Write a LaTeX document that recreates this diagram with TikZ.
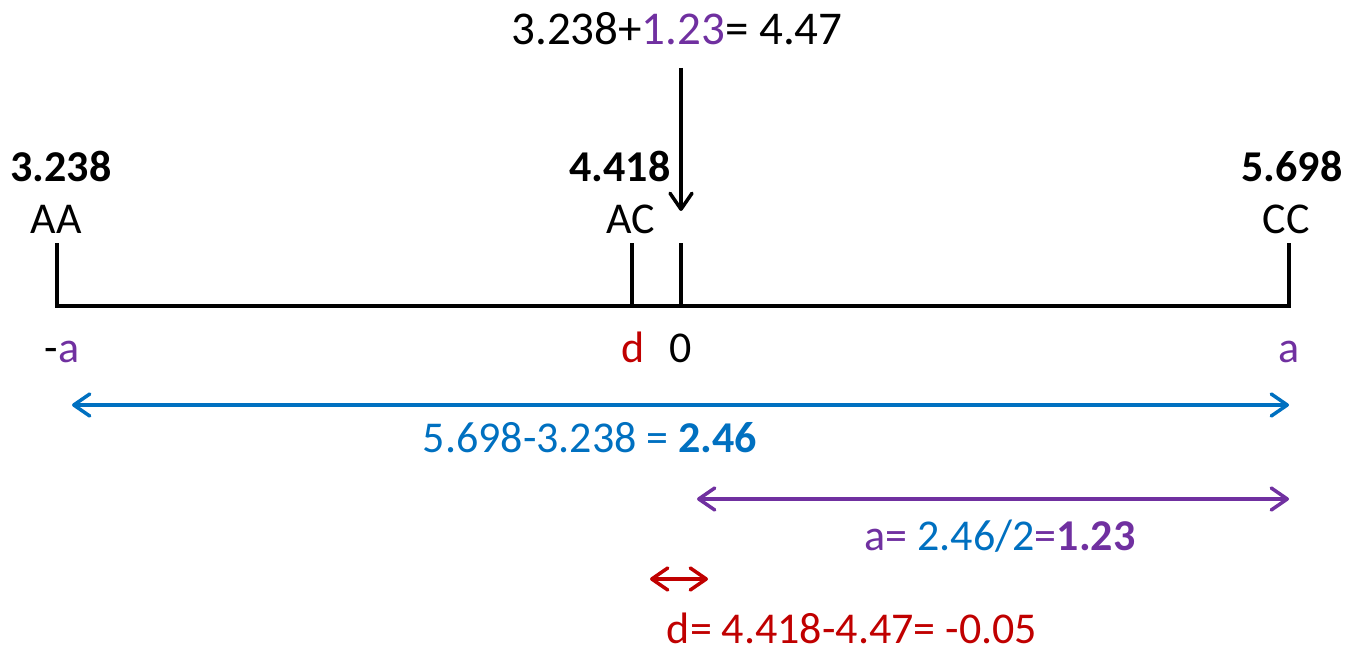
\documentclass[tikz,border=0pt]{standalone}
\usepackage{fontspec}
\setmainfont{Carlito}
\usetikzlibrary{arrows.meta}
\definecolor{myblue}{HTML}{0070C0}
\definecolor{mypurple}{HTML}{7030A0}
\definecolor{myred}{HTML}{C00000}
\tikzset{
  lbl/.style={inner sep=0pt, anchor=base, font=\fontsize{44}{52}\selectfont},
  toplbl/.style={inner sep=0pt, anchor=base, font=\fontsize{47}{56}\selectfont},
  axis/.style={line width=4pt, line cap=rect},
  barb/.tip={Straight Barb[length=16pt,width=22pt,line width=3.5pt,round]},
  dimarrow/.style={line width=3.5pt, {barb}-{barb}},
}
\begin{document}
\begin{tikzpicture}[x=1pt,y=-1pt]
\useasboundingbox (0,0) rectangle (1348,652);
% axis coordinates
\coordinate (l0) at (57,306);
\coordinate (l1) at (57,245);
\coordinate (ac0) at (632,306);
\coordinate (ac1) at (632,245);
\coordinate (z0) at (681,306);
\coordinate (z1) at (681,245);
\coordinate (r0) at (1289,306);
\coordinate (r1) at (1289,245);
\draw[axis] (l1) -- (l0) -- (r0) -- (r1);
\draw[axis] (ac1) -- (ac0);
\draw[axis] (z1) -- (z0);
% top formula and arrow
\node[toplbl] (top) at (677,45) {3.238+\textcolor{mypurple}{1.23}= 4.47};
\coordinate (arrS) at (681,68);
\coordinate (arrE) at (681,211);
\draw[line width=3.5pt, -{barb}] (arrS) -- (arrE);
% labels above
\node[lbl] (vAA) at (61,182) {\bfseries 3.238};
\node[lbl] (nAA) at (56,234) {AA};
\node[lbl] (vAC) at (620,182) {\bfseries 4.418};
\node[lbl] (nAC) at (631,234) {AC};
\node[lbl] (vCC) at (1292,182) {\bfseries 5.698};
\node[lbl] (nCC) at (1286,234) {CC};
% labels below
\node[lbl] (ma) at (62,362) {-\textcolor{mypurple}{a}};
\node[lbl, text=myred] (dl) at (633,362) {d};
\node[lbl] (zl) at (681,362) {0};
\node[lbl, text=mypurple] (al) at (1289,362) {a};
% blue dimension
\coordinate (b0) at (72,405);
\coordinate (b1) at (1289,405);
\draw[dimarrow, myblue] (b0) -- (b1);
\node[lbl, text=myblue] (bt) at (590,452) {5.698-3.238 = \textbf{2.46}};
% purple dimension
\coordinate (p0) at (697,499);
\coordinate (p1) at (1289,499);
\draw[dimarrow, mypurple] (p0) -- (p1);
\node[lbl, text=mypurple] (pt) at (1000,550) {a= \textcolor{myblue}{2.46/2}=\textbf{1.23}};
% red dimension
\coordinate (d0) at (650,579);
\coordinate (d1) at (708,579);
\draw[dimarrow, myred] (d0) -- (d1);
\node[lbl, text=myred] (dt) at (852,643) {d= 4.418-4.47= -0.05};
\end{tikzpicture}
\end{document}
